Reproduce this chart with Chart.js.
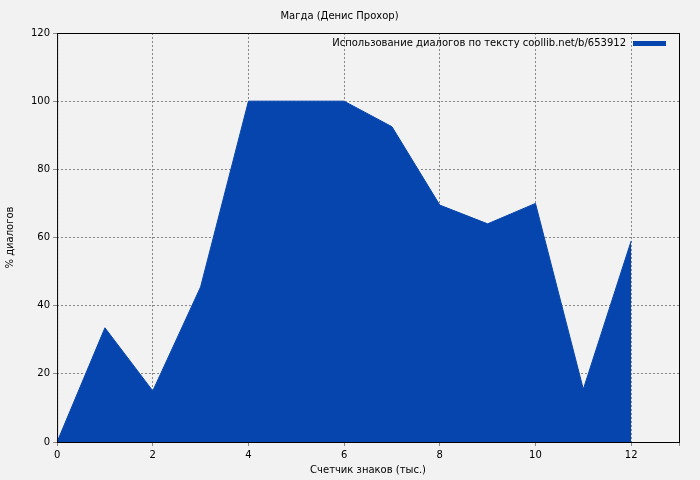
<!DOCTYPE html>
<html><head><meta charset="utf-8">
<script src="https://cdn.jsdelivr.net/npm/chart.js@4"></script>
<style>html,body{margin:0;background:#f2f2f2}#wrap{width:700px;height:480px}</style>
</head><body><div id="wrap"><canvas id="c"></canvas></div>
<script>
var xs = [0, 1, 2, 3, 4, 5, 6, 7, 8, 9, 10, 11, 12];
var dialogs = [0, 33.5, 15, 45.5, 100, 100, 100, 92.5, 69.5, 64, 70, 15.5, 59];
var title = 'Магда (Денис Прохор)';
var seriesName = 'Использование диалогов по тексту coollib.net/b/653912';
var blue = '#0645ad';

Chart.defaults.font.family = 'DejaVu Sans';
Chart.defaults.font.size = 10;
Chart.defaults.color = '#000';

// legend drawn inside the plot, top right
var innerLegend = {
  id: 'innerLegend',
  afterDraw: function(chart) {
    var a = chart.chartArea, ctx = chart.ctx;
    ctx.save();
    ctx.fillStyle = blue;
    ctx.fillRect(a.right - 46, a.top + 8, 33, 5);
    ctx.fillStyle = '#000';
    ctx.font = '10px DejaVu Sans';
    ctx.textAlign = 'right';
    ctx.textBaseline = 'middle';
    ctx.fillText(seriesName, a.right - 53, a.top + 10);
    ctx.restore();
  }
};
var frame = {
  id: 'frame',
  afterDraw: function(chart) {
    var a = chart.chartArea, ctx = chart.ctx;
    ctx.save();
    ctx.strokeStyle = '#000';
    ctx.lineWidth = 1;
    ctx.strokeRect(a.left + 0.5, a.top + 0.5, a.right - a.left, a.bottom - a.top);
    ctx.restore();
  }
};

new Chart(document.getElementById('c'), {
  type: 'line',
  data: {
    datasets: [{
      label: seriesName,
      data: xs.map(function(x, i) { return {x: x, y: dialogs[i]}; }),
      borderColor: blue,
      backgroundColor: blue,
      borderWidth: 1,
      fill: 'origin',
      pointRadius: 0,
      tension: 0
    }]
  },
  options: {
    responsive: true,
    maintainAspectRatio: false,
    animation: false,
    layout: {padding: {right: 21, top: 0, left: 0, bottom: 0}},
    plugins: {
      legend: {display: false},
      tooltip: {enabled: false},
      title: {display: true, text: title, font: {size: 10, weight: 'normal'}, padding: {top: 10, bottom: 11}}
    },
    scales: {
      x: {
        type: 'linear', min: 0, max: 13,
        ticks: {stepSize: 2, callback: function(v) { return v % 2 === 0 ? v : ''; }},
        grid: {color: '#888', borderDash: [2, 2], tickLength: 4, drawTicks: true},
        border: {display: false, dash: [2, 2]},
        title: {display: true, text: 'Счетчик знаков (тыс.)', padding: {top: 0}}
      },
      y: {
        min: 0, max: 120,
        ticks: {stepSize: 20},
        grid: {color: '#888', tickLength: 4},
        border: {display: false, dash: [2, 2]},
        title: {display: true, text: '% диалогов', padding: {bottom: 12}}
      }
    }
  },
  plugins: [innerLegend, frame]
});
</script></body></html>
